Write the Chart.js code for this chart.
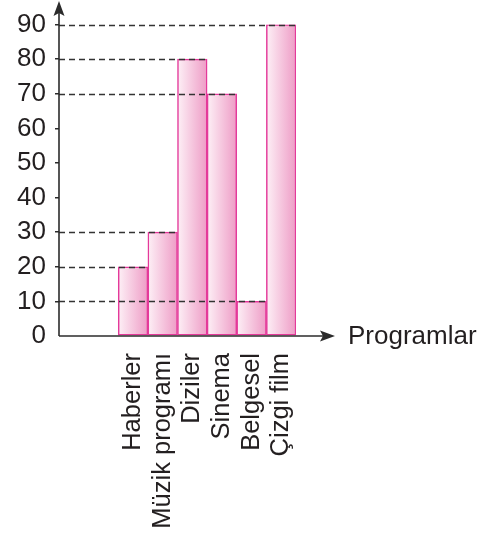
<!DOCTYPE html>
<html>
<head>
<meta charset="utf-8">
<script src="https://cdn.jsdelivr.net/npm/chart.js@4/dist/chart.umd.min.js"></script>
<style>
html,body{margin:0;padding:0;background:#fff;}
#c{display:block;}
</style>
</head>
<body>
<canvas id="c" width="485" height="536"></canvas>
<script>
const categories = ['Haberler', 'Müzik programı', 'Diziler', 'Sinema', 'Belgesel', 'Çizgi film'];
const values = [20, 30, 80, 70, 10, 90];
const yTicks = [0, 10, 20, 30, 40, 50, 60, 70, 80, 90];
const xTitle = 'Programlar';
const emptySlots = 2;

const labels = Array(emptySlots).fill('').concat(categories);
const data = Array(emptySlots).fill(null).concat(values);

const FONT = '"Liberation Sans", Arial, Helvetica, sans-serif';
const TXT = '#231f20';
const AXIS = '#2b2b2b';

function barGradient(ctx) {
  const chart = ctx.chart;
  const xs = chart.scales.x;
  if (!xs || !chart.chartArea) return '#f4b8d6';
  const w = chart.chartArea.width / labels.length;
  const cx = xs.getPixelForValue(ctx.dataIndex);
  const g = chart.ctx.createLinearGradient(cx - w / 2, 0, cx + w / 2, 0);
  g.addColorStop(0, '#fdf0f6');
  g.addColorStop(1, '#ee9cc6');
  return g;
}

const decor = {
  id: 'decor',
  afterDatasetsDraw(chart) {
    const c = chart.ctx;
    const ys = chart.scales.y;
    const area = chart.chartArea;
    const meta = chart.getDatasetMeta(0);
    c.save();
    // dashed guide lines
    c.strokeStyle = '#333';
    c.lineWidth = 1.5;
    c.setLineDash([6, 4]);
    data.forEach((v, i) => {
      if (v == null) return;
      const el = meta.data[i];
      const y = Math.round(ys.getPixelForValue(v)) + 0.5;
      c.beginPath();
      c.moveTo(area.left, y);
      c.lineTo(el.x + el.width / 2, y);
      c.stroke();
    });
    c.setLineDash([]);
    // axes
    const y0 = ys.getPixelForValue(0);
    const x0 = area.left;
    c.strokeStyle = AXIS;
    c.fillStyle = AXIS;
    c.lineWidth = 1.6;
    c.beginPath();
    c.moveTo(x0, y0);
    c.lineTo(x0, 12);
    c.stroke();
    c.beginPath();
    c.moveTo(x0, 1);
    c.lineTo(x0 - 5.5, 16);
    c.lineTo(x0, 13);
    c.lineTo(x0 + 5.5, 16);
    c.closePath();
    c.fill();
    const xe = area.right + 39;
    c.beginPath();
    c.moveTo(x0, y0);
    c.lineTo(xe - 10, y0);
    c.stroke();
    c.beginPath();
    c.moveTo(xe, y0);
    c.lineTo(xe - 15, y0 - 5.5);
    c.lineTo(xe - 12, y0);
    c.lineTo(xe - 15, y0 + 5.5);
    c.closePath();
    c.fill();
    // axis title
    c.fillStyle = TXT;
    c.font = '26px ' + FONT;
    c.textAlign = 'left';
    c.textBaseline = 'middle';
    c.fillText(xTitle, xe + 13, y0 + 1);
    c.restore();
  }
};

new Chart(document.getElementById('c'), {
  type: 'bar',
  data: {
    labels: labels,
    datasets: [{
      data: data,
      backgroundColor: barGradient,
      borderColor: '#e4399a',
      borderWidth: 1.5,
      borderSkipped: false,
      categoryPercentage: 1,
      barPercentage: 1
    }]
  },
  options: {
    responsive: false,
    animation: false,
    devicePixelRatio: 1,
    layout: { padding: { top: 24, right: 189, left: 0, bottom: 0 } },
    plugins: { legend: { display: false }, tooltip: { enabled: false } },
    scales: {
      x: {
        grid: { display: false },
        border: { display: false },
        ticks: {
          autoSkip: false,
          minRotation: 90,
          maxRotation: 90,
          padding: 9,
          color: TXT,
          font: { family: FONT, size: 25.5 }
        },
        afterFit(s) { s.height = 200; }
      },
      y: {
        min: 0,
        max: 90,
        afterBuildTicks(s) { s.ticks = yTicks.map(v => ({ value: v })); },
        grid: {
          drawOnChartArea: false,
          drawTicks: true,
          tickLength: 4,
          lineWidth: 1.5,
          color: ctx => (ctx.tick && ctx.tick.value === 0) ? 'rgba(0,0,0,0)' : AXIS
        },
        border: { display: false },
        ticks: {
          padding: 9,
          color: TXT,
          font: { family: FONT, size: 26 }
        },
        afterFit(s) { s.width = 59; }
      }
    }
  },
  plugins: [decor]
});
</script>
</body>
</html>
